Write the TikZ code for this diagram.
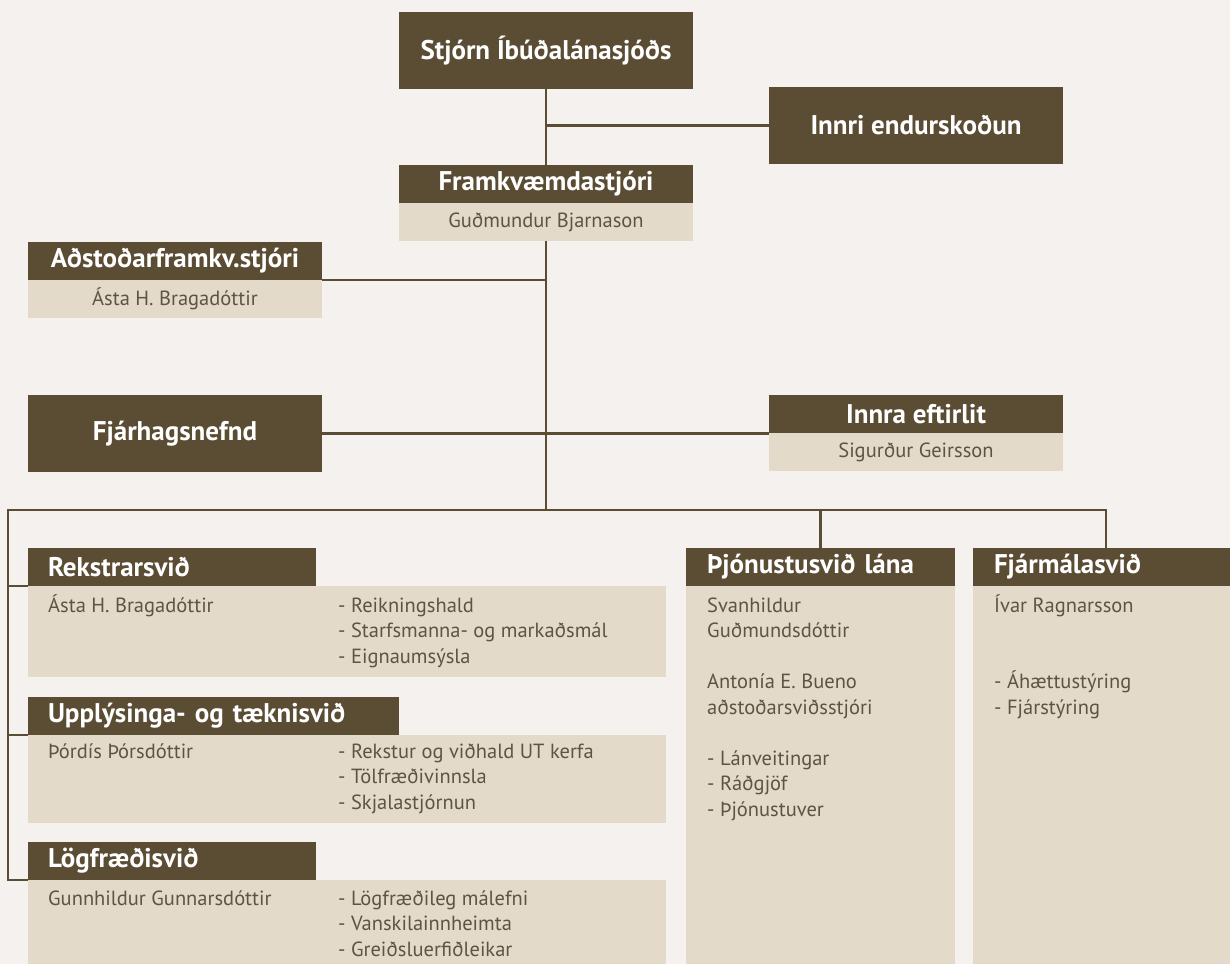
\documentclass[tikz,border=0pt]{standalone}
\usepackage{fontspec}
\setmainfont{PT Sans}
\definecolor{brn}{RGB}{91,76,52}
\definecolor{bge}{RGB}{227,218,202}
\definecolor{bgc}{RGB}{244,241,239}
\definecolor{txt}{RGB}{95,84,67}
\pgfdeclarelayer{bgl}
\pgfdeclarelayer{lnl}
\pgfsetlayers{bgl,lnl,main}
\begin{document}
\begin{tikzpicture}[x=1pt,y=-1pt,
 box/.style={anchor=north west, inner sep=0pt, outer sep=0pt},
 dark/.style={box, fill=brn, text=white, font=\fontsize{27}{30}\selectfont\bfseries},
 ltitle/.style={dark, align=left, inner xsep=20pt},
 pane/.style={box, fill=bge},
 sub/.style={box, fill=bge, text=txt, font=\fontsize{20.5}{24}\selectfont},
 body/.style={anchor=north west, inner sep=0pt, text=txt, align=left, font=\fontsize{20.5}{25.5}\selectfont},
 link/.style={draw=brn, line width=2.2pt}]
\begin{pgfonlayer}{bgl}
\fill[bgc] (0,0) rectangle (1230,964);
\end{pgfonlayer}
\useasboundingbox (0,0) rectangle (1230,964);

% top
\node[dark, minimum width=294pt, minimum height=77pt] (stjorn) at (399,12) {Stjórn Íbúðalánasjóðs};
\node[dark, minimum width=294pt, minimum height=77pt] (innri) at (769,87) {Innri endurskoðun};
\node[dark, minimum width=294pt, minimum height=38pt] (frT) at (399,165) {Framkvæmdastjóri};
\node[sub, minimum width=294pt, minimum height=38pt] (frS) at (399,203) {Guðmundur Bjarnason};
\node[dark, minimum width=294pt, minimum height=38pt] (asT) at (28,242) {Aðstoðarframkv.stjóri};
\node[sub, minimum width=294pt, minimum height=38pt] (asS) at (28,280) {Ásta H. Bragadóttir};
\node[dark, minimum width=294pt, minimum height=77pt] (fjh) at (28,395) {Fjárhagsnefnd};
\node[dark, minimum width=294pt, minimum height=38pt] (ieT) at (769,395) {Innra eftirlit};
\node[sub, minimum width=294pt, minimum height=38pt] (ieS) at (769,433) {Sigurður Geirsson};

% divisions
\node[ltitle, minimum width=288pt, text width=248pt, minimum height=38pt] (rkT) at (28,548) {Rekstrarsvið};
\node[pane, minimum width=638pt, minimum height=91pt] (rkP) at (28,586) {};
\node[ltitle, minimum width=371pt, text width=331pt, minimum height=38pt] (upT) at (28,697) {Upplýsinga- og tæknisvið};
\node[pane, minimum width=638pt, minimum height=88pt] (upP) at (28,735) {};
\node[ltitle, minimum width=288pt, text width=248pt, minimum height=38pt] (lgT) at (28,842) {Lögfræðisvið};
\node[pane, minimum width=638pt, minimum height=84pt] (lgP) at (28,880) {};
\node[ltitle, minimum width=269pt, text width=227pt, inner xsep=21pt, minimum height=38pt] (thT) at (686,548) {Þjónustusvið lána};
\node[pane, minimum width=269pt, minimum height=378pt] (thP) at (686,586) {};
\node[ltitle, minimum width=257pt, text width=215pt, inner xsep=21pt, minimum height=38pt] (fmT) at (973,548) {Fjármálasvið};
\node[pane, minimum width=257pt, minimum height=378pt] (fmP) at (973,586) {};

% body texts
\node[body] (rkA) at (48,594) {\strut Ásta H. Bragadóttir};
\node[body] (rkB) at (338,594) {\strut - Reikningshald\\- Starfsmanna- og markaðsmál\\- Eignaumsýsla};
\node[body] (upA) at (48,740) {\strut Þórdís Þórsdóttir};
\node[body] (upB) at (338,740) {\strut - Rekstur og viðhald UT kerfa\\- Tölfræðivinnsla\\- Skjalastjórnun};
\node[body] (lgA) at (48,887) {\strut Gunnhildur Gunnarsdóttir};
\node[body] (lgB) at (338,887) {\strut - Lögfræðileg málefni\\- Vanskilainnheimta\\- Greiðsluerfiðleikar};
\node[body] (thA) at (707,594) {\strut Svanhildur\\Guðmundsdóttir\\[25.5pt]Antonía E. Bueno\\aðstoðarsviðsstjóri\\[25.5pt]- Lánveitingar\\- Ráðgjöf\\- Þjónustuver};
\node[body] (fmA) at (994,594) {\strut Ívar Ragnarsson\\[51pt]- Áhættustýring\\- Fjárstýring};

\coordinate (busC) at (546,510);
\coordinate (busL) at (8,510);
\coordinate (busR) at (1106,510);

\begin{pgfonlayer}{lnl}
\draw[link] (stjorn.south) -- (busC);
\draw[link] (stjorn.south |- innri.west) -- (innri.west);
\draw[link] (asT.south east) -- (asT.south east -| busC);
\draw[link] (fjh.east) -- (fjh.east -| ieT.west);
\draw[link] (busR |- fmT.north) -- (busR) -- (busL) -- (busL |- lgT.south west) -- (lgT.south west);
\draw[link] (busL |- rkT.south west) -- (rkT.south west);
\draw[link] (busL |- upT.south west) -- (upT.south west);
\draw[link] (thT.north |- busL) -- (thT.north);
\end{pgfonlayer}
\end{tikzpicture}
\end{document}
